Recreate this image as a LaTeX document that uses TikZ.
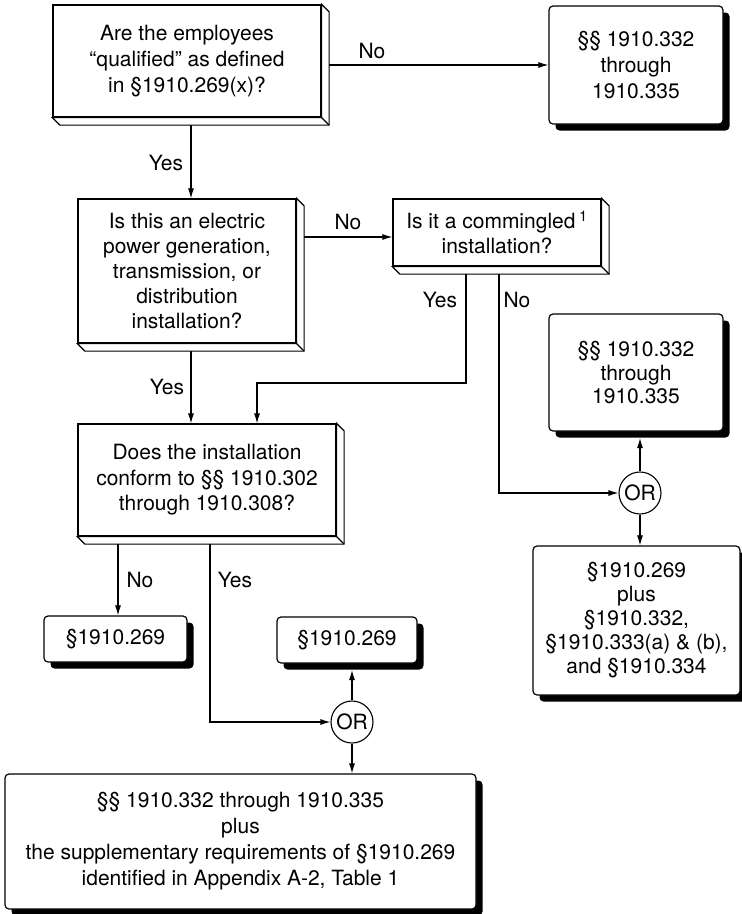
\documentclass[tikz,border=0pt]{standalone}
\usepackage{fontspec}
\setmainfont{TeX Gyre Heros}
\usetikzlibrary{arrows.meta,calc,shadows}
\pgfdeclarelayer{background}
\pgfsetlayers{background,main}
\newcommand{\bd}{7.5}
\newcommand{\qbevel}[1]{%
  \filldraw[bev] (#1.north east) -- ($(#1.north east)+(\bd,\bd)$) -- ($(#1.south east)+(\bd,\bd)$) -- ($(#1.south west)+(\bd,\bd)$) -- (#1.south west) -- (#1.south east) -- cycle;
  \draw[bev] (#1.south east) -- ($(#1.south east)+(\bd,\bd)$);}
\begin{document}
\begin{tikzpicture}[x=1pt,y=-1pt,
  every node/.style={font=\fontsize{21}{25}\selectfont},
  qbox/.style={draw,fill=white,line width=1.2pt,align=center,inner sep=0pt},
  rbox/.style={draw,fill=white,line width=1.2pt,rounded corners=4pt,align=center,inner sep=0pt,
     drop shadow={shadow xshift=6.5pt,shadow yshift=-6.5pt,fill=black,opacity=1}},
  orn/.style={draw,circle,fill=white,line width=1.1pt,minimum size=42pt,inner sep=0pt},
  conn/.style={line width=1.1pt},
  arr/.style={conn,-{Latex[length=10pt,width=6pt]}},
  lbl/.style={inner sep=0pt},
  bev/.style={fill=white,line width=1.2pt,line join=miter}]
\useasboundingbox (0,0) rectangle (742,914);

% question boxes
\node[qbox,minimum width=268pt,minimum height=112pt,font=\fontsize{21}{26}\selectfont] (q1) at (187,61)
  {Are the employees\\“qualified” as defined\\in §1910.269(x)?};
\qbevel{q1}
\node[qbox,minimum width=218pt,minimum height=144pt] (q2) at (187,271)
  {Is this an electric\\power generation,\\transmission, or\\distribution\\installation?};
\qbevel{q2}
\node[qbox,minimum width=208pt,minimum height=67pt] (q3) at (497,232.5)
  {Is it a commingled\,\textsuperscript{1}\\installation?};
\qbevel{q3}
\node[qbox,minimum width=258pt,minimum height=112pt,font=\fontsize{21}{25.5}\selectfont] (q4) at (207,480)
  {Does the installation\\conform to §§ 1910.302\\through 1910.308?};
\qbevel{q4}

% result boxes
\node[rbox,minimum width=174pt,minimum height=118pt,font=\fontsize{21}{26}\selectfont] (r1) at (636,65)
  {§§ 1910.332\\through\\1910.335};
\node[rbox,minimum width=174pt,minimum height=117pt,font=\fontsize{21}{23.5}\selectfont] (r2) at (636,372.5)
  {§§ 1910.332\\through\\1910.335};
\node[rbox,minimum width=207pt,minimum height=149pt,font=\fontsize{21}{24}\selectfont] (r3) at (636.5,620.5)
  {§1910.269\\plus\\§1910.332,\\§1910.333(a) \& (b),\\and §1910.334};
\node[rbox,minimum width=143pt,minimum height=46pt] (r4) at (115.5,639) {§1910.269};
\node[rbox,minimum width=140pt,minimum height=46pt] (r5) at (347,640) {§1910.269};
\node[rbox,minimum width=471pt,minimum height=135pt,font=\fontsize{21}{26}\selectfont] (r6) at (240.5,841.5)
  {§§ 1910.332 through 1910.335\\plus\\the supplementary requirements of §1910.269\\identified in Appendix A-2, Table 1};

% OR nodes
\node[orn] (or1) at (640,493) {OR};
\node[orn] (or2) at (352,722) {OR};

% labels
\node[lbl] (l1) at (372,51) {No};
\node[lbl] (l2) at (166,163) {Yes};
\node[lbl] (l3) at (348,222) {No};
\node[lbl] (l4) at (167,387) {Yes};
\node[lbl] (l5) at (440,300) {Yes};
\node[lbl] (l6) at (517,300) {No};
\node[lbl] (l7) at (140,580) {No};
\node[lbl] (l8) at (235,580) {Yes};

% lanes and bends
\coordinate (xa) at (191,0);
\coordinate (xb) at (257,0);
\coordinate (xc) at (466,0);
\coordinate (xd) at (499,0);
\coordinate (xe) at (118,0);
\coordinate (xf) at (210,0);
\coordinate (yq) at (0,237);
\coordinate (bY1) at (466,383);
\coordinate (bY2) at (257,383);
\coordinate (r2s) at ($(r2.south)+(0,6.5)$);
\coordinate (r5s) at ($(r5.south)+(0,6.5)$);

\begin{pgfonlayer}{background}
\draw[arr] (q1.east |- r1.west) -- (r1.west);
\draw[arr] (q1.south -| xa) -- (q2.north -| xa);
\draw[arr] (q2.east |- yq) -- (q3.west |- yq);
\draw[arr] (q2.south -| xa) -- (q4.north -| xa);
\draw[arr] (q3.south -| xc) -- (bY1) -- (bY2) -- (q4.north -| xb);
\draw[arr] (q3.south -| xd) -- (xd |- or1) -- (or1.west);
\draw[arr] (or1.north) -- (or1.north |- r2s);
\draw[arr] (or1.south) -- (or1.south |- r3.north);
\draw[arr] (q4.south -| xe) -- (r4.north -| xe);
\draw[arr] (q4.south -| xf) -- (xf |- or2) -- (or2.west);
\draw[arr] (or2.north) -- (or2.north |- r5s);
\draw[arr] (or2.south) -- (or2.south |- r6.north);
\end{pgfonlayer}
\end{tikzpicture}
\end{document}
